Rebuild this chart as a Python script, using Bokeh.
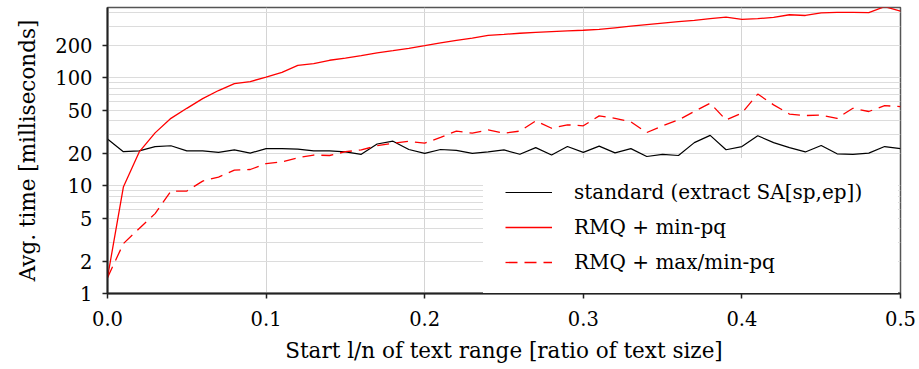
from bokeh.plotting import figure
from bokeh.models import FixedTicker, Legend, LegendItem, Range1d, PrintfTickFormatter
from bokeh.embed import file_html
from bokeh.resources import INLINE

# ---- data -------------------------------------------------------------
x = [round(i * 0.01, 2) for i in range(51)]

standard = [27, 20.6, 21, 23, 23.4, 21, 21, 20.3, 21.4, 20, 22,
            22, 21.8, 21, 21, 20.5, 19.5, 24.3, 25.8, 21.6, 19.9,
            21.6, 21.2, 19.9, 20.5, 21.4, 19.5, 22.5, 19.2, 23, 20.3,
            23.2, 20.1, 22, 18.6, 19.5, 19, 25, 29.2, 21.5, 23,
            29, 25, 22.5, 20.5, 23.5, 19.7, 19.5, 20, 23, 22]

rmq_min = [1.4, 9.7, 20.5, 30.8, 42, 52, 64, 76, 88, 92, 101,
           112, 130, 135, 145, 152, 160, 170, 178, 187, 198,
           210, 222, 233, 247, 252, 258, 263, 267, 271, 275,
           280, 290, 300, 310, 320, 330, 340, 352, 364, 347,
           352, 362, 383, 377, 399, 402, 402, 400, 455, 414]

rmq_maxmin = [1.4, 2.9, 4.0, 5.5, 8.9, 8.9, 11, 12, 13.9, 14.1, 16,
              16.6, 18.1, 19.2, 19, 20.6, 21.4, 23.4, 24.7, 25.7, 24.7,
              28, 32, 30.6, 32.8, 30.6, 32, 39.8, 34, 36.6, 35.8,
              44.3, 42, 39, 31, 35.8, 40.6, 48.6, 58, 40.6, 47,
              70.5, 56, 46, 44.6, 45, 42, 52, 48.6, 55, 54]

labels = ["standard (extract SA[sp,ep])", "RMQ + min-pq", "RMQ + max/min-pq"]

y_major = [1, 2, 5, 10, 20, 50, 100, 200]
y_grid = [m * d for d in (1, 10, 100) for m in range(1, 10)]
x_major = [0, 0.1, 0.2, 0.3, 0.4, 0.5]
x_grid = [0.1, 0.2, 0.3, 0.4]

FONT = "DejaVu Serif"

# ---- figure -----------------------------------------------------------
p = figure(width=919, height=369, x_range=Range1d(0, 0.5), y_range=Range1d(1, 447),
           y_axis_type="log", output_backend="svg", toolbar_location=None,
           min_border_left=107, min_border_right=19, min_border_top=7,
           min_border_bottom=76)

p.background_fill_color = "white"
p.border_fill_color = "white"
p.outline_line_color = "#555555"
p.outline_line_width = 1.5

# grids
p.ygrid.ticker = FixedTicker(ticks=y_grid)
p.ygrid.grid_line_color = "#dcdcdc"
p.ygrid.grid_line_width = 1
p.xgrid.ticker = FixedTicker(ticks=x_grid)
p.xgrid.grid_line_color = "#d4d4d4"
p.xgrid.grid_line_width = 1

# axes
p.yaxis.ticker = FixedTicker(ticks=y_major, minor_ticks=[])
p.yaxis.major_label_overrides = {v: str(v) for v in y_major}
p.xaxis.ticker = FixedTicker(ticks=x_major, minor_ticks=[])
p.xaxis.formatter = PrintfTickFormatter(format="%.1f")

for ax in (p.xaxis, p.yaxis):
    ax.axis_line_color = "#222222"
    ax.axis_line_width = 2
    ax.major_tick_line_color = "#222222"
    ax.major_tick_line_width = 1.5
    ax.major_tick_out = 5
    ax.major_tick_in = 0
    ax.minor_tick_line_color = None
    ax.major_label_text_font = FONT
    ax.major_label_text_font_size = "19.5px"
    ax.major_label_text_color = "black"
    ax.axis_label_text_font = FONT
    ax.axis_label_text_font_size = "21.5px"
    ax.axis_label_text_font_style = "normal"
    ax.axis_label_text_color = "black"

p.yaxis.axis_label = "Avg. time [milliseconds]"
p.yaxis.major_label_standoff = 10
p.yaxis.axis_label_standoff = 12
p.xaxis.axis_label = "Start l/n of text range [ratio of text size]"
p.xaxis.major_label_standoff = 12
p.xaxis.axis_label_standoff = 9

# lines
r1 = p.line(x, standard, line_color="black", line_width=1.2)
r2 = p.line(x, rmq_min, line_color="#ff0000", line_width=1.3)
r3 = p.line(x, rmq_maxmin, line_color="#ff0000", line_width=1.3, line_dash="12 7")

legend = Legend(items=[LegendItem(label=labels[0], renderers=[r1]),
                       LegendItem(label=labels[1], renderers=[r2]),
                       LegendItem(label=labels[2], renderers=[r3])],
                location=(376, -3))
legend.label_text_font = FONT
legend.label_text_font_size = "20px"
legend.label_text_color = "black"
legend.glyph_width = 47
legend.glyph_height = 20
legend.label_height = 20
legend.label_width = 302
legend.label_standoff = 22
legend.padding = 22
legend.spacing = 11
legend.margin = 0
legend.border_line_alpha = 0
legend.background_fill_color = "white"
legend.background_fill_alpha = 1
p.add_layout(legend)

open("out.html", "w").write(file_html(p, INLINE))
